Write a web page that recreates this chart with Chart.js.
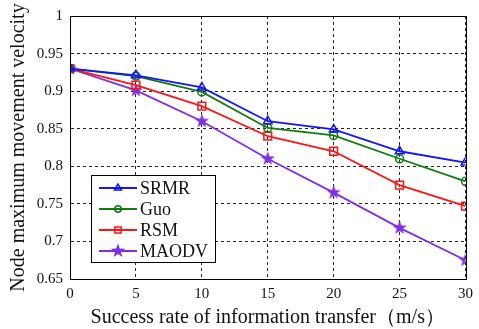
<!DOCTYPE html>
<html>
<head>
<meta charset="utf-8">
<script src="https://cdn.jsdelivr.net/npm/chart.js@4/dist/chart.umd.min.js"></script>
<style>
  html,body{margin:0;padding:0;background:#fff;}
  #wrap{width:479px;height:329px;}
</style>
</head>
<body>
<div id="wrap"><canvas id="grafico" width="479" height="329"></canvas></div>
<script>

// ---------------------
// DADOS
// ---------------------

const xValues=[0,5,10,15,20,25,30];
const yTicks=[0.65,0.7,0.75,0.8,0.85,0.9,0.95,1];

const srmr=[0.93,0.921,0.905,0.86,0.849,0.82,0.805];
const guo=[0.93,0.920,0.899,0.851,0.841,0.81,0.78];
const rsm=[0.93,0.908,0.88,0.84,0.82,0.775,0.747];
const maodv=[0.93,0.901,0.86,0.81,0.765,0.718,0.675];

const seriesNames=["SRMR","Guo","RSM","MAODV"];

// ---------------------
// ESTRELA (pentagrama)
// ---------------------

function makeStar(color){
    const c=document.createElement("canvas");
    c.width=16;c.height=16;
    const g=c.getContext("2d");
    g.beginPath();
    for(let i=0;i<10;i++){
        const r=i%2===0?7.5:3;
        const a=-Math.PI/2+i*Math.PI/5;
        const px=8+r*Math.cos(a), py=8+r*Math.sin(a);
        if(i===0) g.moveTo(px,py); else g.lineTo(px,py);
    }
    g.closePath();
    g.fillStyle=color;
    g.fill();
    return c;
}

const purple="#7f30e0";
const starImg=makeStar(purple);

function pts(vals){
    return vals.map((v,i)=>({x:xValues[i],y:v}));
}

const serif="'Liberation Serif', serif";

// ---------------------
// PLUGINS
// ---------------------

const frame={
    id:"frame",
    afterDraw(chart){
        const a=chart.chartArea, ctx=chart.ctx;
        ctx.save();
        ctx.strokeStyle="#000";
        ctx.lineWidth=1;
        ctx.strokeRect(Math.round(a.left)+0.5,Math.round(a.top)+0.5,Math.round(a.right-a.left),Math.round(a.bottom-a.top));
        ctx.restore();
    }
};

const boxLegend={
    id:"boxLegend",
    afterDraw(chart){
        const ctx=chart.ctx;
        const x0=91,y0=175,w=124,h=87;
        ctx.save();
        ctx.fillStyle="#fff";
        ctx.fillRect(x0,y0,w,h);
        ctx.strokeStyle="#000";
        ctx.lineWidth=1;
        ctx.strokeRect(x0+0.5,y0+0.5,w,h);
        chart.data.datasets.forEach((ds,i)=>{
            const y=y0+13+i*21;
            ctx.strokeStyle=ds.borderColor;
            ctx.lineWidth=ds.borderWidth;
            ctx.beginPath();
            ctx.moveTo(x0+8,y);
            ctx.lineTo(x0+46,y);
            ctx.stroke();
            ctx.fillStyle=ds.pointBackgroundColor;
            ctx.lineWidth=1.5;
            Chart.helpers.drawPoint(ctx,{pointStyle:ds.pointStyle,radius:ds.pointRadius*0.8,borderWidth:1.5,rotation:0},x0+27,y);
            ctx.fillStyle="#111";
            ctx.font="18px "+serif;
            ctx.textBaseline="middle";
            ctx.fillText(ds.label,x0+49,y+1);
        });
        ctx.restore();
    }
};

// ---------------------
// GRAFICO
// ---------------------

const colors=["#1414ff","#0e7d0e","#ff1414",purple];
const styles=["triangle","circle","rect",starImg];
const radii=[5,4,5.5,8];
const allSeries=[srmr,guo,rsm,maodv];

new Chart(document.getElementById("grafico"),{
    type:"line",
    data:{
        datasets:allSeries.map((s,i)=>({
            label:seriesNames[i],
            data:pts(s),
            borderColor:colors[i],
            borderWidth:1.8,
            pointStyle:styles[i],
            pointRadius:radii[i],
            pointBorderWidth:1.5,
            pointBorderColor:colors[i],
            pointBackgroundColor:"rgba(0,0,0,0)",
            tension:0
        }))
    },
    options:{
        responsive:false,
        animation:false,
        layout:{padding:{left:0,right:9,top:13,bottom:0}},
        plugins:{legend:{display:false},tooltip:{enabled:false}},
        scales:{
            x:{
                type:"linear",
                min:0,max:30,
                afterBuildTicks:s=>{s.ticks=xValues.map(v=>({value:v}));},
                afterFit:s=>{s.height=50;},
                grid:{color:"#222",lineWidth:1,drawTicks:false},
                border:{display:true,color:"#000",dash:[3,3]},
                ticks:{color:"#111",font:{family:serif,size:15},padding:6,maxRotation:0},
                title:{display:true,text:"Success rate of information transfer（m/s）",color:"#111",font:{family:serif,size:20},padding:{top:0,bottom:-1}}
            },
            y:{
                min:0.65,max:1,
                afterBuildTicks:s=>{s.ticks=yTicks.map(v=>({value:v}));},
                afterFit:s=>{s.width=70;},
                grid:{color:"#222",lineWidth:1,drawTicks:false},
                border:{display:true,color:"#000",dash:[3,3]},
                ticks:{color:"#111",font:{family:serif,size:15},padding:7,callback:v=>String(+v.toFixed(2))},
                title:{display:true,text:"Node maximum movement velocity",color:"#111",font:{family:serif,size:20},padding:{top:7,bottom:0}}
            }
        }
    },
    plugins:[frame,boxLegend]
});

</script>
</body>
</html>
